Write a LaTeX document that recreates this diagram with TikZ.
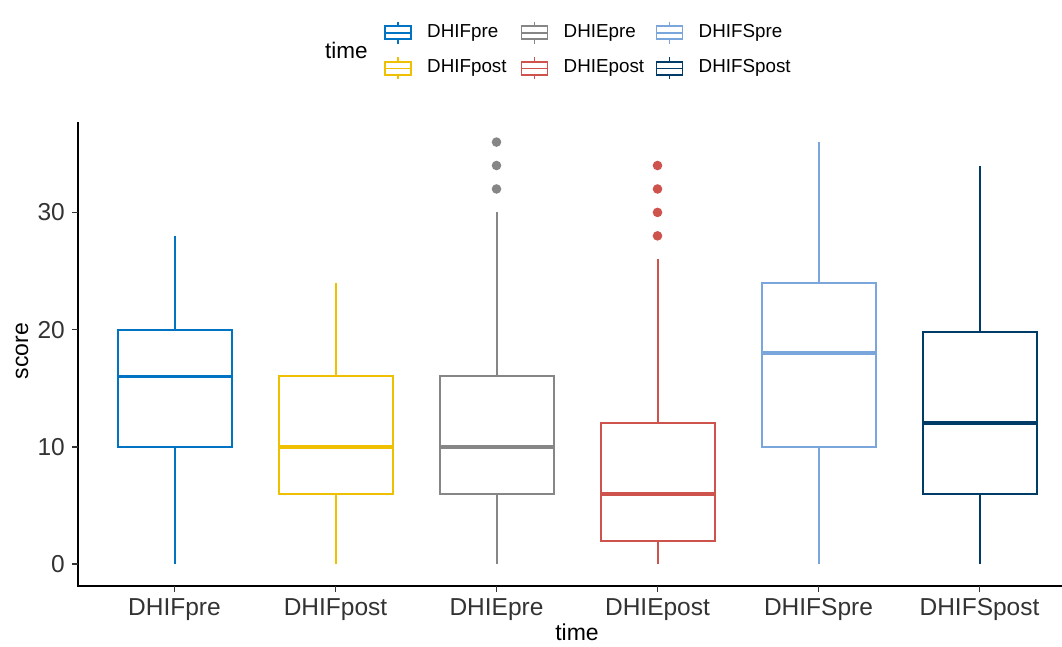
\documentclass[tikz,border=0pt]{standalone}
\usepackage{fontspec}
\setmainfont{Liberation Sans}
\definecolor{cA}{HTML}{0073C2}
\definecolor{cB}{HTML}{EFC000}
\definecolor{cC}{HTML}{868686}
\definecolor{cD}{HTML}{CD534C}
\definecolor{cE}{HTML}{7AA6DC}
\definecolor{cF}{HTML}{003C67}
\definecolor{axisgray}{HTML}{333333}
\begin{document}
\begin{tikzpicture}[x=1pt,y=1pt,
  boxline/.style={line width=2pt},
  medline/.style={line width=3.8pt},
  axisline/.style={line width=1.7pt, black},
  tickline/.style={line width=1.5pt, axisgray},
  ticklab/.style={font=\fontsize{24.5}{26}\selectfont, text=axisgray},
  axtitle/.style={font=\fontsize{23}{26}\selectfont, text=black},
  legtext/.style={font=\fontsize{18.8}{20}\selectfont, text=black, anchor=west, inner sep=0pt},
  legkey/.style={line width=1.6pt}]
\useasboundingbox (0,0) rectangle (1062,-646);
% axes
\coordinate (ytop) at (78,-122);
\coordinate (orig) at (78,-586);
\coordinate (xend) at (1062,-586);
\draw[axisline] (ytop) -- (orig) -- (xend);
% y ticks
\foreach \v in {0,10,20,30} {
  \draw[tickline] (72,{-564+11.72*\v}) -- (78,{-564+11.72*\v});
  \node[ticklab, anchor=east, inner sep=0pt] (yl\v) at (65,{-564+11.72*\v}) {\v};
}
% boxes
\foreach \cx/\lo/\qa/\md/\qb/\hi/\col/\lab [count=\i] in {
  174.5/0/10/16/20/28/cA/DHIFpre,
  335.5/0/6/10/16/24/cB/DHIFpost,
  496.5/0/6/10/16/30/cC/DHIEpre,
  657.5/0/2/6/12/26/cD/DHIEpost,
  818.5/0/10/18/24/36/cE/DHIFSpre,
  979.5/0/6/12/19.77/34/cF/DHIFSpost} {
  \draw[boxline, \col] (\cx,{-564+11.72*\lo}) -- (\cx,{-564+11.72*\qa});
  \draw[boxline, \col] (\cx,{-564+11.72*\qb}) -- (\cx,{-564+11.72*\hi});
  \draw[boxline, \col, fill=white] (\cx-57,{-564+11.72*\qa}) rectangle (\cx+57,{-564+11.72*\qb});
  \draw[medline, \col] (\cx-57,{-564+11.72*\md}) -- (\cx+57,{-564+11.72*\md});
  \draw[tickline] (\cx,-586) -- (\cx,-592);
  \node[ticklab, anchor=base, inner sep=0pt] (xl\i) at (\cx,-615) {\lab};
}
% outliers
\foreach \v in {32,34,36} \fill[cC] (496.5,{-564+11.72*\v}) circle (4.8);
\foreach \v in {28,30,32,34} \fill[cD] (657.5,{-564+11.72*\v}) circle (4.8);
% axis titles
\node[axtitle, anchor=base, inner sep=0pt] (xt) at (577,-640) {time};
\node[axtitle, rotate=90, anchor=base, inner sep=0pt] (yt) at (28,-351) {score};
% legend
\node[font=\fontsize{22.5}{24}\selectfont, anchor=west, inner sep=0pt] (lt) at (325,-50) {time};
\foreach \kx/\ky/\col/\lab [count=\j] in {
  385/32.7/cA/DHIFpre, 385/68.3/cB/DHIFpost,
  521.5/32.7/cC/DHIEpre, 521.5/68.3/cD/DHIEpost,
  656.5/32.7/cE/DHIFSpre, 656.5/68.3/cF/DHIFSpost} {
  \draw[legkey, \col] (\kx+13,-\ky+11) -- (\kx+13,-\ky-11);
  \draw[legkey, \col, fill=white] (\kx,-\ky+6.5) rectangle (\kx+26,-\ky-6.5);
  \draw[legkey, \col] (\kx,-\ky) -- (\kx+26,-\ky);
  \node[legtext] (lg\j) at (\kx+42,-\ky) {\lab};
}
\end{tikzpicture}
\end{document}
